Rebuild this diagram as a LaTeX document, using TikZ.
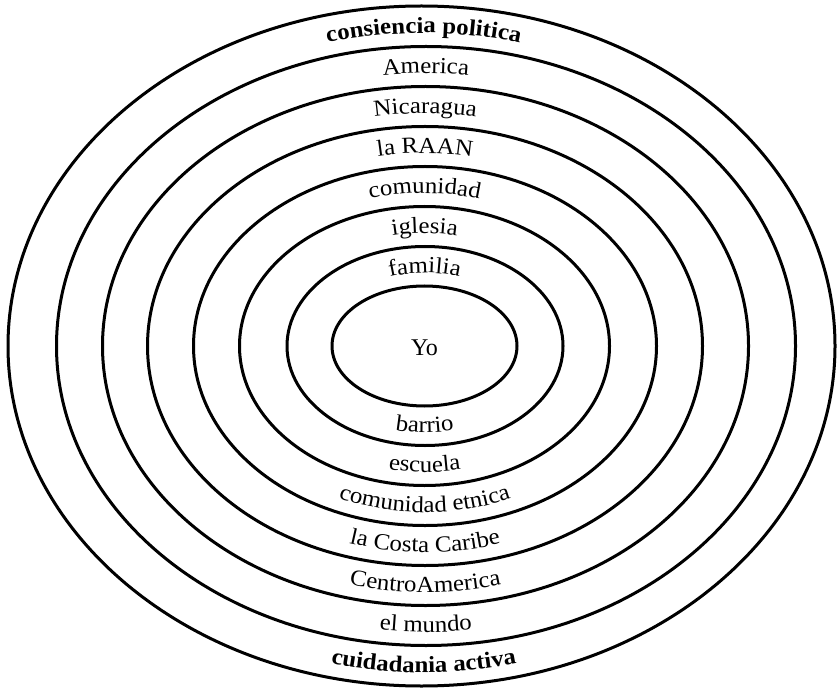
\documentclass[tikz,border=0pt]{standalone}
\usepackage{fontspec}
\setmainfont{Liberation Serif}
\newfontfamily\lbl[FakeStretch=1.08]{Liberation Serif}
\usetikzlibrary{decorations.text}
\newcommand\lblfont{\lbl\fontsize{23}{27}\selectfont}
\newcommand\lblbf{\lbl\bfseries\fontsize{23}{27}\selectfont}
\newcommand\ringtop[5]{\path[decorate,decoration={text along path,text align=center,text={|#5|#4}}] (#1pt-#2pt,343pt) arc[start angle=180,end angle=0,x radius=#2pt,y radius=#3pt];}
\newcommand\ringbot[5]{\path[decorate,decoration={text along path,text align=center,text={|#5|#4}}] (#1pt-#2pt,343pt) arc[start angle=180,end angle=360,x radius=#2pt,y radius=#3pt];}
\begin{document}
\begin{tikzpicture}[x=1pt,y=1pt,ring/.style={draw=black,line width=3pt}]
\useasboundingbox (0,0) rectangle (837,689);
% ellipses, inner to outer
\draw[ring] (424.5,343) ellipse[x radius=92.5pt,y radius=60pt];
\draw[ring] (425,343) ellipse[x radius=138pt,y radius=99.5pt];
\draw[ring] (424.5,343) ellipse[x radius=185pt,y radius=139.5pt];
\draw[ring] (425,343) ellipse[x radius=231.5pt,y radius=179.5pt];
\draw[ring] (425,343) ellipse[x radius=277.5pt,y radius=219.5pt];
\draw[ring] (425.5,343) ellipse[x radius=323pt,y radius=259.5pt];
\draw[ring] (426,343) ellipse[x radius=369.5pt,y radius=299.5pt];
\draw[ring] (421.5,343) ellipse[x radius=413.5pt,y radius=340pt];
\node[font=\fontsize{24}{28}\selectfont] (yo) at (424.5,341) {Yo};
% top labels
\ringtop{424.75}{108.5}{73}{familia}{\lblfont}
\ringtop{424.75}{154.75}{112.75}{iglesia}{\lblfont}
\ringtop{424.75}{201.5}{152.75}{comunidad}{\lblfont}
\ringtop{425}{247.75}{192.75}{la RAAN}{\lblfont}
\ringtop{425.25}{293.5}{232.75}{Nicaragua}{\lblfont}
\ringtop{425.75}{339.5}{272.75}{America}{\lblfont}
\ringtop{423.75}{384.75}{313}{consiencia politica}{\lblbf}
% bottom labels
\ringbot{424.75}{122}{86.5}{barrio}{\lblfont}
\ringbot{424.75}{168.25}{126.25}{escuela}{\lblfont}
\ringbot{424.75}{215}{166.25}{comunidad etnica}{\lblfont}
\ringbot{425}{261.25}{206.25}{la Costa Caribe}{\lblfont}
\ringbot{425.25}{307}{246.25}{CentroAmerica}{\lblfont}
\ringbot{425.75}{353}{286.25}{el mundo}{\lblfont}
\ringbot{423.75}{398.25}{326.5}{cuidadania activa}{\lblbf}
\end{tikzpicture}
\end{document}
